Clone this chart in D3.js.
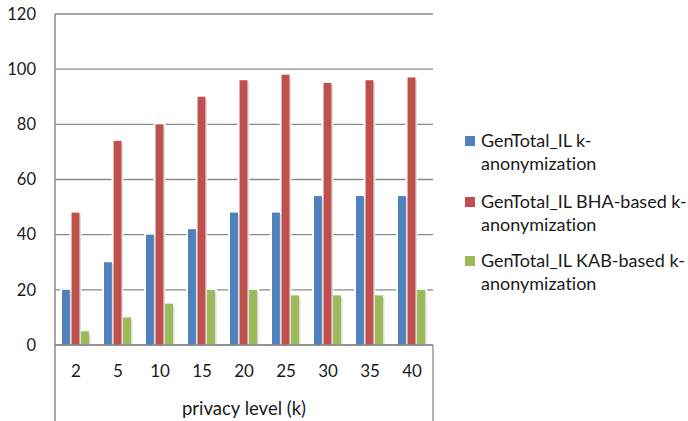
<!DOCTYPE html>
<html>
<head>
<meta charset="utf-8">
<script src="https://cdn.jsdelivr.net/npm/d3@7"></script>
<style>
  html, body { margin: 0; padding: 0; background: #ffffff; }
  svg { display: block; }
  text { font-family: Lato, "Open Sans", sans-serif; fill: #1a1a1a; font-variant-ligatures: none; font-feature-settings: "liga" 0, "clig" 0; }
</style>
</head>
<body>
<svg id="chart" width="688" height="421"></svg>
<script>
// ---- data ----
const categories = ["2", "5", "10", "15", "20", "25", "30", "35", "40"];
const seriesNames = [
  ["GenTotal_IL k-", "anonymization"],
  ["GenTotal_IL BHA-based k-", "anonymization"],
  ["GenTotal_IL KAB-based k-", "anonymization"]
];
const kAnonymization   = [20, 30, 40, 42, 48, 48, 54, 54, 54];
const bhaAnonymization = [48, 74, 80, 90, 96, 98, 95, 96, 97];
const kabAnonymization = [5, 10, 15, 20, 20, 18, 18, 18, 20];
const yTicks = [0, 20, 40, 60, 80, 100, 120];
const xAxisTitle = "privacy level (k)";
const colors = ["#4F81BD", "#C0504D", "#9BBB59"];

const series = [kAnonymization, bhaAnonymization, kabAnonymization];

// ---- layout ----
const svg = d3.select("#chart");
const plotLeft = 55, plotRight = 433, plotTop = 14, plotBottom = 345;

const x = d3.scaleBand().domain(categories).range([plotLeft, plotRight]);
const xInner = d3.scaleBand().domain([0, 1, 2]).range([7, 34]).paddingInner(0.17);
const y = d3.scaleLinear().domain([0, 120]).range([plotBottom, plotTop]);

const gridColor = "#8a8a8a";

// gridlines
svg.append("g")
  .selectAll("line")
  .data(yTicks)
  .join("line")
  .attr("x1", plotLeft).attr("x2", plotRight)
  .attr("y1", d => y(d)).attr("y2", d => y(d))
  .attr("stroke", gridColor).attr("stroke-width", 1.3);

// y tick labels
const yAxis = d3.axisLeft(y).tickValues(yTicks).tickSize(0).tickPadding(19);
const yg = svg.append("g").attr("transform", `translate(${plotLeft},0)`).call(yAxis);
yg.select(".domain").remove();
yg.selectAll("text").attr("font-size", 16.5).attr("font-family", "Lato, sans-serif").attr("fill", "#1a1a1a");

// bars
const barData = [];
series.forEach((vals, si) => vals.forEach((v, ci) => barData.push({ si, ci, v })));

const bw = xInner.bandwidth();
const bx = d => x(categories[d.ci]) + xInner(d.si);

// halo (white glow) behind bars
svg.append("g").selectAll("rect")
  .data(barData).join("rect")
  .attr("x", d => bx(d) - 2)
  .attr("y", d => y(d.v) - 2)
  .attr("width", bw + 4)
  .attr("height", d => plotBottom - y(d.v) + 1)
  .attr("fill", "#ffffff");

// soft shadow on right
svg.append("g").selectAll("rect")
  .data(barData).join("rect")
  .attr("x", d => bx(d) + bw)
  .attr("y", d => y(d.v) + 2)
  .attr("width", 1.5)
  .attr("height", d => plotBottom - y(d.v) - 2)
  .attr("fill", "#dcdcdc");

svg.append("g").selectAll("rect")
  .data(barData).join("rect")
  .attr("x", d => bx(d))
  .attr("y", d => y(d.v))
  .attr("width", bw)
  .attr("height", d => plotBottom - y(d.v))
  .attr("fill", d => colors[d.si]);

// baseline (zero) line on top
svg.append("line")
  .attr("x1", plotLeft).attr("x2", plotRight)
  .attr("y1", y(0)).attr("y2", y(0))
  .attr("stroke", gridColor).attr("stroke-width", 1.3);

// left axis line extends into the category box
svg.append("line")
  .attr("x1", plotLeft).attr("x2", plotLeft)
  .attr("y1", plotTop).attr("y2", 421)
  .attr("stroke", gridColor).attr("stroke-width", 1.5);
// right box line under category axis
svg.append("line")
  .attr("x1", plotRight).attr("x2", plotRight)
  .attr("y1", plotBottom).attr("y2", 421)
  .attr("stroke", gridColor).attr("stroke-width", 1.3);

// x category labels
const xAxis = d3.axisBottom(x).tickSize(0).tickPadding(20);
const xg = svg.append("g").attr("transform", `translate(0,${plotBottom})`).call(xAxis);
xg.select(".domain").remove();
xg.selectAll("text").attr("font-size", 17).attr("font-family", "Lato, sans-serif").attr("fill", "#1a1a1a");

// x axis title
svg.append("text")
  .attr("x", (plotLeft + plotRight) / 2)
  .attr("y", 415)
  .attr("text-anchor", "middle")
  .attr("font-size", 18.5)
  .text(xAxisTitle);

// legend
const legend = svg.append("g");
const legendTop = [147, 208, 267];
seriesNames.forEach((lines, i) => {
  const g = legend.append("g");
  g.append("rect")
    .attr("x", 465).attr("y", legendTop[i] - 11)
    .attr("width", 10).attr("height", 10)
    .attr("fill", colors[i]);
  lines.forEach((t, j) => {
    g.append("text")
      .attr("x", 481)
      .attr("y", legendTop[i] + j * 22.5)
      .attr("font-size", 18)
      .text(t);
  });
});
</script>
</body>
</html>
